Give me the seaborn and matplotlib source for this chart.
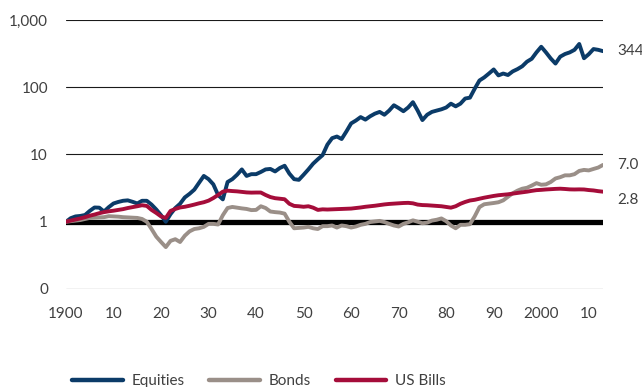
import numpy as np
import pandas as pd
import matplotlib
matplotlib.use("Agg")
import matplotlib.pyplot as plt
import seaborn as sns
from matplotlib.lines import Line2D

years = list(range(1900, 2014))

equities = [
    1.0, 1.13, 1.2, 1.22, 1.26, 1.45, 1.63, 1.62, 1.42, 1.65,
    1.87, 1.97, 2.05, 2.08, 1.98, 1.87, 2.05, 2.05, 1.8, 1.52,
    1.25, 1.0, 1.3, 1.6, 1.85, 2.3, 2.6, 3.0, 3.8, 4.8,
    4.3, 3.6, 2.5, 2.15, 3.9, 4.3, 5.0, 6.0, 4.8, 5.1,
    5.1, 5.5, 6.0, 6.1, 5.6, 6.3, 6.8, 5.2, 4.3, 4.2,
    5.0, 6.0, 7.3, 8.5, 9.8, 14.0, 17.5, 18.5, 17.0, 22.0,
    29.0, 32.0, 36.0, 33.0, 37.0, 40.5, 43.0, 39.0, 45.0, 54.0,
    49.0, 44.0, 50.0, 60.0, 45.0, 32.5, 39.0, 43.0, 45.0, 47.0,
    50.0, 57.0, 52.0, 57.0, 68.0, 70.0, 95.0, 126.0, 140.0, 160.0,
    184.0, 150.0, 160.0, 152.0, 172.0, 186.0, 205.0, 240.0, 265.0, 330.0,
    400.0, 330.0, 268.0, 225.0, 285.0, 312.0, 330.0, 360.0, 440.0, 270.0,
    310.0, 370.0, 360.0, 344.0,
]

bonds = [
    1.0, 1.02, 1.04, 1.06, 1.1, 1.14, 1.15, 1.16, 1.17, 1.21,
    1.2, 1.19, 1.17, 1.16, 1.15, 1.14, 1.1, 1.0, 0.78, 0.6,
    0.5, 0.42, 0.52, 0.55, 0.5, 0.62, 0.72, 0.78, 0.8, 0.84,
    0.93, 0.93, 0.91, 1.25, 1.6, 1.66, 1.62, 1.58, 1.55, 1.49,
    1.5, 1.7, 1.6, 1.42, 1.39, 1.37, 1.32, 1.0, 0.8, 0.81,
    0.82, 0.84, 0.8, 0.78, 0.86, 0.86, 0.88, 0.82, 0.88, 0.86,
    0.82, 0.85, 0.9, 0.93, 0.99, 1.01, 1.03, 0.99, 0.93, 0.88,
    0.85, 0.93, 0.98, 1.05, 1.0, 0.95, 0.97, 1.04, 1.07, 1.12,
    1.02, 0.88, 0.8, 0.9, 0.9, 0.92, 1.2, 1.65, 1.82, 1.86,
    1.9, 1.95, 2.08, 2.35, 2.65, 2.9, 3.1, 3.2, 3.45, 3.75,
    3.55, 3.6, 3.9, 4.4, 4.6, 4.9, 4.9, 5.1, 5.7, 5.9,
    5.8, 6.1, 6.4, 7.0,
]

bills = [
    1.0, 1.04, 1.08, 1.12, 1.17, 1.23, 1.28, 1.34, 1.39, 1.43,
    1.46, 1.5, 1.54, 1.6, 1.65, 1.7, 1.76, 1.72, 1.5, 1.35,
    1.2, 1.14, 1.45, 1.55, 1.63, 1.67, 1.73, 1.8, 1.88, 1.95,
    2.06, 2.25, 2.5, 2.8, 2.9, 2.86, 2.83, 2.78, 2.73, 2.71,
    2.72, 2.72, 2.5, 2.33, 2.24, 2.2, 2.16, 1.85, 1.72, 1.7,
    1.67, 1.7, 1.62, 1.5, 1.53, 1.52, 1.53, 1.54, 1.55, 1.56,
    1.57, 1.6, 1.63, 1.67, 1.7, 1.73, 1.77, 1.81, 1.84, 1.86,
    1.88, 1.9, 1.91, 1.88, 1.8, 1.77, 1.76, 1.74, 1.72, 1.7,
    1.66, 1.62, 1.7, 1.85, 1.97, 2.07, 2.12, 2.2, 2.28, 2.35,
    2.42, 2.48, 2.52, 2.56, 2.62, 2.68, 2.74, 2.8, 2.88, 2.95,
    2.98, 3.02, 3.05, 3.08, 3.1, 3.07, 3.03, 3.02, 3.03, 3.02,
    2.96, 2.92, 2.85, 2.8,
]

series_names = ["Equities", "Bonds", "US Bills"]
end_labels = ["344", "7.0", "2.8"]
y_ticks = [0.1, 1, 10, 100, 1000]
y_tick_labels = ["0", "1", "10", "100", "1,000"]
x_ticks = list(range(1900, 2011, 10))
x_tick_labels = ["1900", "10", "20", "30", "40", "50", "60", "70", "80", "90", "2000", "10"]

colors = {"Equities": "#0b3b68", "Bonds": "#9a8f88", "US Bills": "#a50d3a"}

df = pd.concat([
    pd.DataFrame({"year": years, "value": equities, "series": "Equities"}),
    pd.DataFrame({"year": years, "value": bonds, "series": "Bonds"}),
    pd.DataFrame({"year": years, "value": bills, "series": "US Bills"}),
], ignore_index=True)

sns.set_theme(style="white")
plt.rcParams["font.family"] = ["Lato", "DejaVu Sans"]
text_color = "#404040"

fig = plt.figure(figsize=(6.42, 3.87), dpi=100)
ax = fig.add_axes([66 / 642, 1 - 289 / 387, (603 - 66) / 642, (289 - 20) / 387])

for v in y_ticks:
    ax.axhline(v, color="#1a1a1a", lw=0.8, zorder=1)
ax.axhline(1, color="black", lw=3.8, zorder=2, solid_capstyle="round")

sns.lineplot(data=df, x="year", y="value", hue="series", hue_order=series_names,
             palette=colors, linewidth=2.8, ax=ax, legend=False, zorder=3)
for l in ax.lines:
    l.set_solid_capstyle("round")
    l.set_solid_joinstyle("round")

ax.set_yscale("log")
ax.set_ylim(0.1, 1000)
ax.set_xlim(years[0], years[-1])
ax.set_yticks(y_ticks)
ax.set_yticklabels(y_tick_labels)
ax.minorticks_off()
ax.set_xticks(x_ticks)
ax.set_xticklabels(x_tick_labels)
ax.tick_params(axis="both", length=0, labelsize=11, colors=text_color)
ax.tick_params(axis="y", pad=13)
ax.tick_params(axis="x", pad=13)
ax.set_xlabel("")
ax.set_ylabel("")
for s in ax.spines.values():
    s.set_visible(False)
ax.grid(False)

last_vals = [equities[-1], bonds[-1], bills[-1]]
offsets = [0, 0, -6]
for val, lab, off in zip(last_vals, end_labels, offsets):
    ax.annotate(lab, xy=(years[-1], val), xytext=(10, off), textcoords="offset points",
                va="center", ha="left", fontsize=11, color=text_color, annotation_clip=False)

handles = [Line2D([0], [0], color=colors[n], lw=3.2, solid_capstyle="round") for n in series_names]
fig.legend(handles, series_names, loc="center left", bbox_to_anchor=(66 / 642, 1 - 381 / 387),
           ncol=3, frameon=False, fontsize=11, handlelength=3.3, handletextpad=0.6,
           columnspacing=1.6, labelcolor=text_color, borderaxespad=0)

fig.savefig("out.png", dpi=100)
